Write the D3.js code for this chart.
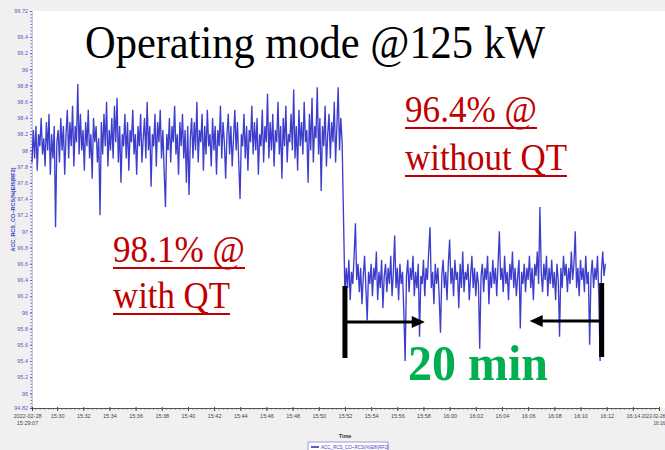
<!DOCTYPE html>
<html><head><meta charset="utf-8">
<script src="https://cdn.jsdelivr.net/npm/d3@7"></script>
<style>body{margin:0;background:#f0f0f0}svg{display:block}</style>
</head><body>
<svg id="c" width="665" height="450"></svg>
<script>
// ---- data ----
const stepSec = 6;
const startWithQT = "2022-02-28T15:28:05";
const startWithoutQT = "2022-02-28T15:52:00";
const withQT = [
97.85,98.25,97.9,98.3,97.75,98.2,98.05,98.4,97.95,98.15,97.8,98.35,98.0,98.45,97.7,98.2,97.9,98.3,97.05,98.1,
98.25,97.85,98.4,98.0,98.3,97.7,98.2,98.5,97.9,98.35,98.05,98.55,97.8,98.3,98.1,98.82,97.95,98.45,98.0,98.25,
97.75,98.35,98.05,98.5,97.9,98.2,97.65,98.4,98.1,98.3,97.85,98.15,97.2,98.35,97.95,98.45,98.05,98.6,97.8,98.25,
98.0,98.4,97.9,98.55,98.1,98.65,97.85,98.3,97.6,98.2,98.05,98.45,97.9,98.35,97.75,98.25,98.1,98.5,97.95,98.2,
97.7,98.3,98.05,98.45,97.85,98.15,98.4,97.9,98.6,98.0,98.3,97.55,98.2,98.05,98.45,97.8,98.35,98.1,98.5,97.9,
98.25,97.75,97.3,98.2,98.0,98.4,97.85,98.3,98.1,98.55,97.95,98.2,97.7,98.35,98.05,98.45,97.9,98.25,97.6,98.3,
97.45,98.15,98.4,97.9,98.35,98.0,98.6,97.85,98.25,98.1,98.45,97.75,98.3,97.95,98.5,98.05,98.2,97.8,98.4,98.0,
98.3,97.7,98.25,98.05,98.55,97.9,98.35,98.1,97.65,98.2,98.45,97.95,98.3,97.8,98.15,98.5,98.0,98.35,97.85,97.4,
98.2,98.05,98.45,97.9,98.3,97.75,98.25,98.1,98.55,97.95,98.35,98.0,98.4,97.7,98.2,98.05,98.5,97.85,98.3,98.1,
98.7,97.9,98.35,98.0,98.45,97.8,98.25,98.1,98.6,97.95,98.3,97.65,98.4,98.05,98.55,97.85,98.2,98.1,98.45,98.0,
98.75,97.9,98.3,97.75,98.5,98.05,98.35,97.95,98.6,98.1,98.25,97.6,98.45,98.0,98.65,97.85,98.3,98.15,98.78,97.95,
98.4,97.5,98.3,98.05,98.55,97.8,98.2,98.45,97.9,98.35,98.1,98.6,97.85,98.3,98.78,98.0,98.4,98.1];
const withoutQT = [
96.2,96.55,96.3,96.65,96.15,96.5,96.35,96.7,97.1,96.4,96.6,96.25,96.55,96.1,96.45,96.7,96.3,95.9,96.5,96.35,
96.6,96.2,96.55,96.4,96.75,96.15,96.5,96.3,96.65,96.05,96.45,96.6,96.25,96.55,96.35,96.7,96.2,96.5,96.95,96.3,
96.55,96.15,96.6,96.35,96.5,96.0,95.4,96.45,96.65,96.25,96.55,96.4,96.7,96.2,96.5,96.3,96.6,95.7,96.45,96.35,
96.65,96.2,96.55,96.4,96.75,97.05,96.3,96.5,96.1,96.6,96.35,96.55,96.2,95.75,96.45,96.65,96.3,96.5,96.15,96.6,
96.9,96.35,96.55,96.2,96.65,96.4,96.5,96.05,96.6,96.3,96.75,96.25,96.5,96.4,96.6,96.15,96.45,96.7,96.3,96.55,
96.2,96.5,96.35,95.55,96.45,96.6,96.25,96.55,96.4,96.7,96.1,96.5,96.3,96.65,96.35,96.55,96.2,96.6,97.0,96.4,
96.55,96.25,96.7,96.35,96.5,96.15,96.6,96.4,96.75,96.3,96.55,96.2,96.45,96.65,95.8,96.5,96.35,96.6,96.25,96.55,
96.4,96.7,96.3,96.55,96.15,96.6,96.45,96.75,96.35,97.3,96.5,96.25,96.6,96.4,96.7,96.2,96.55,96.35,96.65,96.3,
96.5,96.15,96.6,96.4,95.7,96.55,96.3,96.7,96.45,96.6,96.25,96.55,96.35,96.75,96.4,96.6,97.0,96.3,96.55,96.2,
96.65,96.4,96.55,96.25,96.7,96.35,96.5,95.6,96.45,96.65,96.3,96.55,96.4,96.7,96.2,95.4,96.5,96.75,96.45,96.6];
const xDomain = ["2022-02-28T15:28:05", "2022-02-28T16:16:00"];
const yDomain = [94.82, 99.72];
const yTickValues = [94.82,95,95.2,95.4,95.6,95.8,96,96.2,96.4,96.6,96.8,97,97.2,97.4,97.6,97.8,98,98.2,98.4,98.6,98.8,99,99.2,99.4,99.72];
const xTickTimes = ["15:28:05","15:30","15:32","15:34","15:36","15:38","15:40","15:42","15:44","15:46","15:48","15:50","15:52","15:54","15:56","15:58","16:00","16:02","16:04","16:06","16:08","16:10","16:12","16:14","16:16"];
const xTickLabels = [["2022-02-28","15:29:07"],["15:30"],["15:32"],["15:34"],["15:36"],["15:38"],["15:40"],["15:42"],["15:44"],["15:46"],["15:48"],["15:50"],["15:52"],["15:54"],["15:56"],["15:58"],["16:00"],["16:02"],["16:04"],["16:06"],["16:08"],["16:10"],["16:12"],["16:14"],["2022-02-28","16:16"]];
const seriesName = "ACC_RCS_CO~RCS(%)Effi(RF2)";
const markerTimes = ["15:52:00", "16:11:37"];
const arrowTipTimes = ["15:58:06", "16:06:07"];
const title = "Operating mode @125 kW";
const noteWithout = ["96.4% @", "without QT"];
const noteWith = ["98.1% @", "with QT"];
const durationText = "20 min";

// ---- build ----
const parse = d3.timeParse("%Y-%m-%dT%H:%M:%S");
const day = "2022-02-28T";
const tp = s => parse(day + (s.length === 5 ? s + ":00" : s));
const pts = [];
withQT.forEach((v,i)=>pts.push({t:new Date(parse(startWithQT).getTime()+i*stepSec*1000), v}));
withoutQT.forEach((v,i)=>pts.push({t:new Date(parse(startWithoutQT).getTime()+i*stepSec*1000), v}));

const svg = d3.select("#c");
const L = 32, R = 659, T = 11, B = 408;
const x = d3.scaleTime().domain(xDomain.map(parse)).range([L, R]);
const y = d3.scaleLinear().domain(yDomain).range([B, T]);

svg.append("rect").attr("width",665).attr("height",450).attr("fill","#f0f0f0");
svg.append("rect").attr("x",L).attr("y",T).attr("width",665-L).attr("height",B-T).attr("fill","#ffffff");

// y axis
const yAxis = svg.append("g").attr("transform",`translate(${L},0)`)
  .call(d3.axisLeft(y).tickValues(yTickValues).tickSize(2).tickPadding(2).tickFormat(d=>String(+d.toFixed(2))));
yAxis.select(".domain").attr("stroke","#c8c8e8");
yAxis.selectAll(".tick line").attr("stroke","#4a4ac8");
yAxis.selectAll("text").attr("fill","#5a5ac8").style("font","5.5px 'Liberation Sans', Arial");
svg.append("g").attr("transform",`translate(${L},0)`)
  .call(d3.axisLeft(y).tickValues(d3.range(0,123).map(i=>94.84+i*0.04)).tickSize(1.5).tickFormat(""))
  .call(g=>g.select(".domain").remove())
  .selectAll("line").attr("stroke","#6a6ad8");

// x axis
const xAxis = svg.append("g").attr("transform",`translate(0,${B})`)
  .call(d3.axisBottom(x).tickValues(xTickTimes.map(tp)).tickSize(3).tickFormat(""));
xAxis.select(".domain").attr("stroke","#555");
xAxis.selectAll(".tick line").attr("stroke","#444").attr("y1",-1);
const lastI = xTickLabels.length-1;
xAxis.selectAll(".tick").each(function(d,i){
  const dx = i===0 ? -5 : (i===lastI ? 5.5 : 0);
  const t = d3.select(this).append("text").attr("fill","#444").attr("y",10)
    .style("font", (i===lastI ? "4.6px" : "5.5px") + " 'Liberation Sans', Arial").attr("text-anchor", i===lastI ? "end" : "middle");
  xTickLabels[i].forEach((s,k)=>t.append("tspan").attr("x", dx).attr("dy", k?7:0).text(s));
});
const minor = d3.timeSecond.every(20).range(x.domain()[0], x.domain()[1]);
svg.append("g").attr("transform",`translate(0,${B})`)
  .call(d3.axisBottom(x).tickValues(minor).tickSize(1.5).tickFormat(""))
  .call(g=>g.select(".domain").remove())
  .selectAll("line").attr("stroke","#555");

svg.append("text").attr("x",345).attr("y",438).attr("text-anchor","middle")
  .style("font","bold 5.5px 'Liberation Sans', Arial").attr("fill","#333").text("Time");
svg.append("text").attr("transform",`translate(15,${(T+B)/2}) rotate(-90)`).attr("text-anchor","middle")
  .style("font","bold 5.5px 'Liberation Sans', Arial").attr("fill","#4040c0").text(seriesName);

// legend
const lg = svg.append("g").attr("transform","translate(308,442)");
lg.append("rect").attr("width",80).attr("height",12).attr("fill","#fff").attr("stroke","#9a9ad8");
lg.append("line").attr("x1",3).attr("x2",11).attr("y1",5).attr("y2",5).attr("stroke","#2020c0").attr("stroke-width",1.5);
lg.append("text").attr("x",13).attr("y",7).style("font","4.5px 'Liberation Sans', Arial").attr("fill","#4040c0").text(seriesName);

// series line
svg.append("path").datum(pts)
  .attr("d", d3.line().x(d=>x(d.t)).y(d=>y(d.v)))
  .attr("fill","none").attr("stroke","#1c1cc4").attr("stroke-width",1.35).attr("stroke-opacity",0.85);

// ---- annotations ----
const serif = "'Liberation Serif', 'Times New Roman', serif";
svg.append("text").attr("x",85).attr("y",58).attr("textLength",460).attr("lengthAdjust","spacingAndGlyphs")
  .style("font",`46px ${serif}`).attr("fill","#000").text(title);

function note(lines, x0, baselines, widths){
  lines.forEach((s,k)=>{
    svg.append("text").attr("x",x0).attr("y",baselines[k]).attr("textLength",widths[k]).attr("lengthAdjust","spacingAndGlyphs")
      .style("font",`37px ${serif}`).attr("fill","#c00000").text(s);
    svg.append("line").attr("x1",x0).attr("x2",x0+widths[k]).attr("y1",baselines[k]+6).attr("y2",baselines[k]+6)
      .attr("stroke","#c00000").attr("stroke-width",2);
  });
}
note(noteWithout, 405, [122,170], [132,162]);
note(noteWith, 113, [262,308], [132,117]);

svg.append("text").attr("x",408).attr("y",380).attr("textLength",140).attr("lengthAdjust","spacingAndGlyphs")
  .style("font",`bold 50px ${serif}`).attr("fill","#00b050").text(durationText);

const mx = markerTimes.map(s=>x(tp(s)));
const ax = arrowTipTimes.map(s=>x(tp(s)));
svg.append("rect").attr("x",mx[0]-2.5).attr("y",286).attr("width",5).attr("height",72).attr("fill","#000");
svg.append("rect").attr("x",mx[1]-2.5).attr("y",283).attr("width",5).attr("height",74).attr("fill","#000");
svg.append("line").attr("x1",mx[0]).attr("x2",ax[0]-10).attr("y1",322).attr("y2",322).attr("stroke","#000").attr("stroke-width",3);
svg.append("path").attr("d",`M${ax[0]},322 L${ax[0]-13},316 L${ax[0]-13},328 Z`).attr("fill","#000");
svg.append("line").attr("x1",mx[1]).attr("x2",ax[1]+10).attr("y1",321).attr("y2",321).attr("stroke","#000").attr("stroke-width",3);
svg.append("path").attr("d",`M${ax[1]},321 L${ax[1]+13},315 L${ax[1]+13},327 Z`).attr("fill","#000");
</script>
</body></html>
